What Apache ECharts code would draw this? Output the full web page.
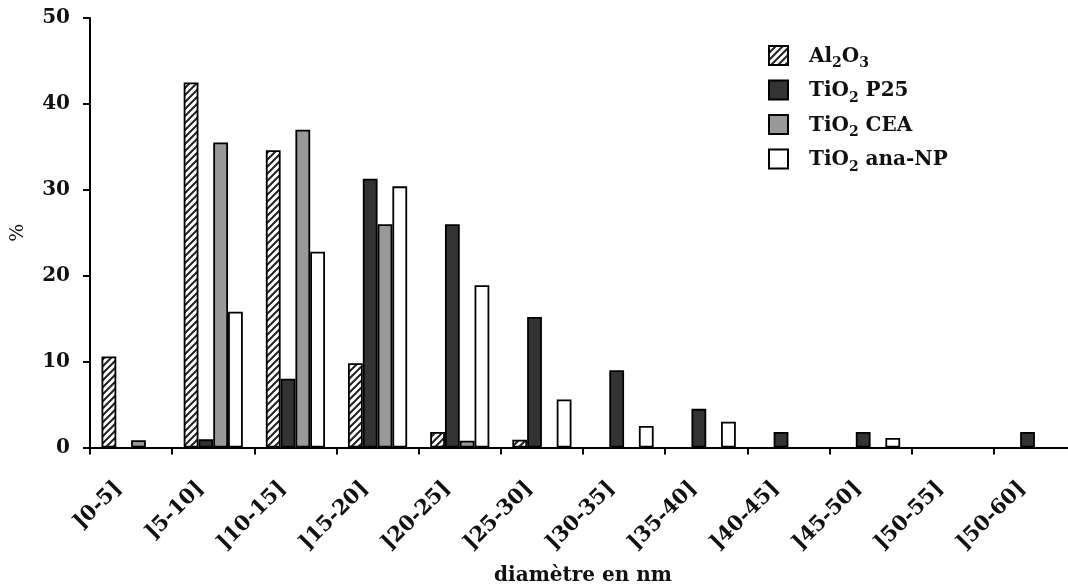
<!DOCTYPE html>
<html>
<head>
<meta charset="utf-8">
<script src="https://cdn.jsdelivr.net/npm/echarts@6/dist/echarts.min.js"></script>
<style>
  html, body { margin: 0; padding: 0; background: #fff; }
  #chart { width: 1068px; height: 588px; }
</style>
</head>
<body>
<div id="chart"></div>
<script>
// Size classes (nm)
const categories = [']0-5]', ']5-10]', ']10-15]', ']15-20]', ']20-25]', ']25-30]',
                    ']30-35]', ']35-40]', ']40-45]', ']45-50]', ']50-55]', ']50-60]'];

// Percentage of particles in each size class
const al2o3   = [10.6, 42.5, 34.6, 9.8, 1.8, 0.9, 0, 0, 0, 0, 0, 0];
const tio2P25 = [0, 0.95, 8.0, 31.3, 26.0, 15.2, 9.0, 4.5, 1.8, 1.8, 0, 1.8];
const tio2CEA = [0.85, 35.5, 37.0, 26.0, 0.8, 0, 0, 0, 0, 0, 0, 0];
const tio2Ana = [0, 15.8, 22.8, 30.4, 18.9, 5.6, 2.5, 3.0, 0, 1.1, 0, 0];

const yTicks = { min: 0, max: 50, interval: 10 };

const seriesNames = ['Al2O3', 'TiO2 P25', 'TiO2 CEA', 'TiO2 ana-NP'];
const legendRich = {
  'Al2O3':       '{g|}{m|Al}{s|2}{m|O}{s|3}',
  'TiO2 P25':    '{g|}{m|TiO}{s|2}{m| P25}',
  'TiO2 CEA':    '{g|}{m|TiO}{s|2}{m| CEA}',
  'TiO2 ana-NP': '{g|}{m|TiO}{s|2}{m| ana-NP}'
};

const FONT = '"DejaVu Serif", "Liberation Serif", serif';

// Diagonal hatch fill for the alumina bars
function hatch() {
  const n = 7;
  const c = document.createElement('canvas');
  c.width = n; c.height = n;
  const g = c.getContext('2d');
  g.fillStyle = '#fff';
  g.fillRect(0, 0, n, n);
  g.strokeStyle = '#222';
  g.lineWidth = 2;
  g.beginPath();
  g.moveTo(-1, n + 1); g.lineTo(n + 1, -1);
  g.moveTo(-1, 1); g.lineTo(1, -1);
  g.moveTo(n - 1, n + 1); g.lineTo(n + 1, n - 1);
  g.stroke();
  return { image: c, repeat: 'repeat' };
}

const fills = [hatch(), '#333333', '#999999', '#ffffff'];
const values = [al2o3, tio2P25, tio2CEA, tio2Ana];

// Empty classes get no bar at all
const asBars = arr => arr.map(v => (v === 0 ? '-' : v));

const chart = echarts.init(document.getElementById('chart'));
chart.setOption({
  animation: false,
  backgroundColor: '#fff',
  textStyle: { fontFamily: FONT },
  grid: { left: 90, top: 18, right: -8, bottom: 140.5, containLabel: false, outerBoundsMode: 'none' },
  legend: {
    orient: 'vertical',
    left: 763,
    top: 40,
    itemWidth: 19,
    itemHeight: 19,
    itemGap: 9,
    icon: 'rect',
    data: seriesNames,
    formatter: name => legendRich[name],
    textStyle: {
      padding: [10, 0, 0, 0],
      rich: {
        g: { width: 16 },
        m: { fontFamily: FONT, fontWeight: 'bold', fontSize: 20, color: '#111', verticalAlign: 'bottom', lineHeight: 20, padding: [0, 0, 4, 0] },
        s: { fontFamily: FONT, fontWeight: 'bold', fontSize: 14, color: '#111', verticalAlign: 'bottom', lineHeight: 14 }
      }
    }
  },
  xAxis: {
    type: 'category',
    data: categories,
    name: 'diamètre en nm',
    nameLocation: 'middle',
    nameGap: 118,
    nameTextStyle: { fontFamily: FONT, fontWeight: 'bold', fontSize: 20, color: '#111' },
    axisLine: { lineStyle: { color: '#000', width: 2 } },
    axisTick: { show: true, length: 7, lineStyle: { color: '#000', width: 2 } },
    axisLabel: {
      rotate: 45, interval: 0, margin: 25,
      fontFamily: FONT, fontWeight: 'bold', fontSize: 21, color: '#111',
      padding: [0, 18, 0, 0]
    },
    splitLine: { show: false }
  },
  yAxis: {
    type: 'value',
    min: yTicks.min, max: yTicks.max, interval: yTicks.interval,
    name: '%',
    nameLocation: 'middle',
    nameGap: 62,
    nameRotate: 90,
    nameTextStyle: { fontFamily: FONT, fontSize: 19, color: '#111' },
    axisLine: { show: true, lineStyle: { color: '#000', width: 2 } },
    axisTick: { show: true, length: 7, lineStyle: { color: '#000', width: 2 } },
    axisLabel: { margin: 20, fontFamily: FONT, fontWeight: 'bold', fontSize: 20, color: '#111' },
    splitLine: { show: false }
  },
  series: seriesNames.map((name, i) => ({
    name,
    type: 'bar',
    data: asBars(values[i]),
    barGap: '0%',
    barCategoryGap: '28%',
    itemStyle: { color: fills[i], borderColor: '#000', borderWidth: 1.8 }
  }))
});
</script>
</body>
</html>
